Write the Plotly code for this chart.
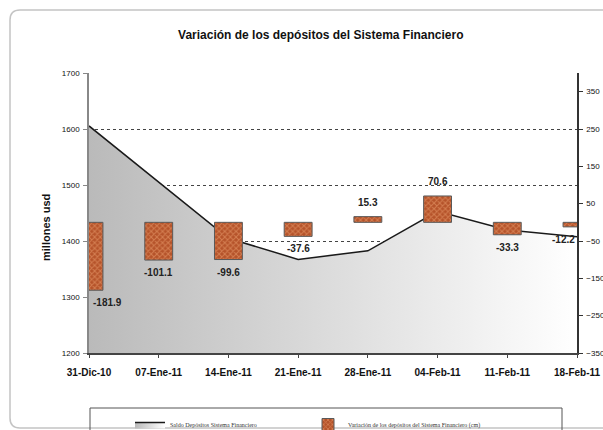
'''
    Variación de los depósitos del Sistema Financiero:
    saldo (área con degradado) y variación semanal (barras, eje derecho).
'''

import plotly.graph_objects as go

categorias = ["31-Dic-10", "07-Ene-11", "14-Ene-11", "21-Ene-11",
              "28-Ene-11", "04-Feb-11", "11-Feb-11", "18-Feb-11"]
saldo = [1605.5, 1504.4, 1404.8, 1367.2, 1382.5, 1453.1, 1419.8, 1407.6]
variacion = [-181.9, -101.1, -99.6, -37.6, 15.3, 70.6, -33.3, -12.2]

ticks_izq = [1200, 1300, 1400, 1500, 1600, 1700]
ticks_der = [-350, -250, -150, -50, 50, 150, 250, 350]

W, H = 603, 430
L, R, T, B = 89, 26, 73, 77
FONT = "Arial, Liberation Sans, sans-serif"


def px_x(p):
    # pixel -> paper (horizontal)
    return (p - L) / (W - L - R)


def px_y(p):
    # pixel -> paper (vertical)
    return (H - B - p) / (H - T - B)


fig = go.Figure()

fig.add_trace(go.Scatter(
    x=categorias, y=saldo, name="Saldo Depósitos Sistema Financiero",
    mode="lines", line=dict(color="#1a1a1a", width=1.5),
    fill="tozeroy",
    fillgradient=dict(type="horizontal",
                      colorscale=[[0, "#bababa"], [1, "#ffffff"]]),
    yaxis="y"))

fig.add_trace(go.Bar(
    x=categorias, y=variacion,
    name="Variación de los depósitos del Sistema Financiero (cm)",
    width=0.4,
    marker=dict(color="#b5532a", line=dict(color="#5a5a5a", width=1),
                pattern=dict(shape="x", fgcolor="#f2a878", bgcolor="#b5532a",
                             size=4, solidity=0.45)),
    yaxis="y2"))

# etiquetas de datos
n = len(categorias)
for i, (c, v) in enumerate(zip(categorias, variacion)):
    xanchor = "center"
    if i == 0:
        xanchor = "left"
    elif i == n - 1:
        xanchor = "right"
    fig.add_annotation(
        x=c, y=v, xref="x", yref="y2", text=f"{v:.1f}", showarrow=False,
        xanchor=xanchor, yanchor="top" if v < 0 else "bottom",
        yshift=-5 if v < 0 else 7, xshift=2 if i == 0 else 0,
        font=dict(family=FONT, size=10, color="#222", weight="bold"))

fig.add_annotation(
    x=px_x(38), y=px_y(228), xref="paper", yref="paper",
    text="millones usd", textangle=-90, showarrow=False,
    font=dict(family=FONT, size=11, color="#111", weight="bold"))

# marco redondeado y caja de la leyenda
x0, x1, y0, y1, r = px_x(10), px_x(640), px_y(10), px_y(428), 10
fig.add_shape(
    type="path", xref="paper", yref="paper",
    path=(f"M {x1},{y0} L {px_x(10 + r)},{y0} Q {x0},{y0} {x0},{px_y(10 + r)} "
          f"L {x0},{px_y(428 - r)} Q {x0},{y1} {px_x(10 + r)},{y1} L {x1},{y1}"),
    line=dict(color="#c4c4c4", width=1.5))
fig.add_shape(
    type="rect", xref="paper", yref="paper",
    x0=px_x(90), x1=px_x(562), y0=px_y(408), y1=px_y(450),
    line=dict(color="#555", width=1), fillcolor="rgba(0,0,0,0)")

fig.update_layout(
    width=W, height=H,
    margin=dict(l=L, r=R, t=T, b=B, autoexpand=False),
    paper_bgcolor="white", plot_bgcolor="white",
    title=dict(text="Variación de los depósitos del Sistema Financiero",
               x=0.532, xanchor="center", y=1 - 35 / H, yanchor="middle",
               font=dict(family=FONT, size=12, color="#111", weight="bold")),
    xaxis=dict(type="category", range=[0, n - 1], showgrid=False,
               showline=True, linecolor="#444", linewidth=2,
               ticks="outside", ticklen=3, tickcolor="#444",
               ticklabelstandoff=6, automargin=False,
               tickfont=dict(family=FONT, size=10, color="#111", weight="bold")),
    yaxis=dict(range=[1200, 1700], tickvals=ticks_izq,
               showgrid=True, gridcolor="#444", griddash="dot", gridwidth=1,
               zeroline=False, showline=True, linecolor="#888", linewidth=1.5,
               ticks="outside", ticklen=4, tickcolor="#888",
               ticklabelstandoff=2, automargin=False,
               tickfont=dict(family=FONT, size=8, color="#111")),
    yaxis2=dict(range=[-350, 400], tickvals=ticks_der, overlaying="y",
                side="right", showgrid=False, zeroline=False,
                showline=True, linecolor="#333", linewidth=1.5,
                ticks="outside", ticklen=4, tickcolor="#333",
                ticklabelstandoff=2, automargin=False,
                tickfont=dict(family=FONT, size=8, color="#111")),
    showlegend=True,
    legend=dict(orientation="h", x=130 / W, xanchor="left", xref="container",
                y=1 - 410 / H, yanchor="top", yref="container",
                entrywidth=133, entrywidthmode="pixels",
                bgcolor="rgba(0,0,0,0)", borderwidth=0,
                font=dict(family="Liberation Serif, serif", size=6,
                          color="#333")),
)

fig.write_html("out.html",
               config={"displayModeBar": False},
               post_script="document.body.style.margin='0';"
                           "document.body.style.overflow='hidden';")
